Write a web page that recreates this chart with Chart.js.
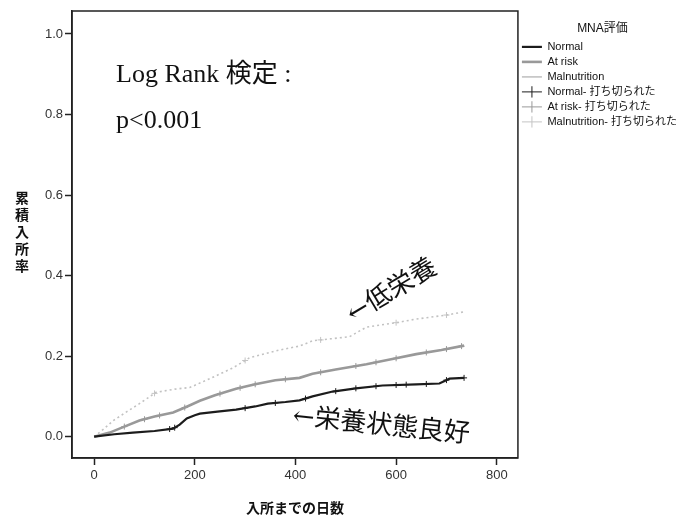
<!DOCTYPE html>
<html>
<head>
<meta charset="utf-8">
<script src="https://cdn.jsdelivr.net/npm/chart.js@4/dist/chart.umd.min.js"></script>
<style>
  html, body { margin: 0; padding: 0; background: #fff; }
  #wrap { width: 699px; height: 520px; }
</style>
</head>
<body>
<div id="wrap"><canvas id="km" width="699" height="520"></canvas></div>
<script>
// cumulative admission rate by MNA group
const normalDays = [0, 40, 77, 120, 157, 170, 184, 200, 210, 245, 282, 320, 345, 380, 408, 434, 474, 520, 573, 640, 686, 706, 735];
const normalRate = [0, 0.006, 0.01, 0.014, 0.02, 0.03, 0.045, 0.053, 0.057, 0.062, 0.067, 0.075, 0.082, 0.086, 0.09, 0.1, 0.112, 0.12, 0.127, 0.13, 0.132, 0.144, 0.146];

const atRiskDays = [0, 31, 60, 90, 120, 157, 185, 210, 240, 282, 320, 360, 408, 434, 480, 541, 590, 640, 690, 735];
const atRiskRate = [0, 0.01, 0.025, 0.04, 0.05, 0.06, 0.075, 0.089, 0.103, 0.119, 0.13, 0.14, 0.146, 0.156, 0.167, 0.18, 0.192, 0.205, 0.215, 0.226];

const malDays = [0, 20, 38, 65, 90, 123, 160, 190, 230, 276, 309, 368, 408, 434, 470, 507, 541, 600, 640, 700, 735];
const malRate = [0, 0.02, 0.04, 0.062, 0.082, 0.11, 0.118, 0.122, 0.144, 0.171, 0.196, 0.215, 0.225, 0.238, 0.243, 0.248, 0.272, 0.283, 0.292, 0.302, 0.31];

// censored times
const normalCensor = [150, 160, 300, 360, 420, 480, 520, 560, 600, 620, 660, 700, 735];
const atRiskCensor = [60, 100, 130, 180, 250, 290, 320, 380, 450, 520, 560, 600, 660, 700, 730];
const malCensor = [120, 300, 450, 600, 700];

const xTicks = [0, 200, 400, 600, 800];
const yTicks = [0, 0.2, 0.4, 0.6, 0.8, 1.0];

const groupNames = ['Normal', 'At risk', 'Malnutrition'];
const censorSuffix = '- 打ち切られた';

function points(days, rates) {
   return days.map((d, i) => ({x: d, y: rates[i]}));
}

// value of the curve at time t (linear between read points)
function curveValue(days, rates, t) {
   for (let i = 1; i < days.length; i++) {
      if (t <= days[i]) {
         const f = (t - days[i - 1]) / (days[i] - days[i - 1]);
         return rates[i - 1] + f * (rates[i] - rates[i - 1]);
      }
   }
   return rates[rates.length - 1];
}

function censorPoints(cens, days, rates) {
   return cens.map(c => ({x: c, y: curveValue(days, rates, c)}));
}

const ctx = document.getElementById('km').getContext('2d');

const extras = {
   id: 'extras',
   afterDatasetsDraw(chart) {
      const c = chart.ctx;
      const a = chart.chartArea;
      c.save();
      // frame
      c.strokeStyle = '#222';
      c.lineWidth = 1.5;
      c.strokeRect(a.left, a.top, a.right - a.left, a.bottom - a.top);

      // y title stacked vertically
      c.fillStyle = '#111';
      c.font = 'bold 14px "Noto Sans CJK JP"';
      c.textAlign = 'center';
      c.textBaseline = 'middle';
      const yt = '累積入所率';
      for (let i = 0; i < yt.length; i++) {
         c.fillText(yt[i], 22, 198 + i * 17);
      }

      // log rank text
      c.textAlign = 'left';
      c.textBaseline = 'alphabetic';
      c.font = '26px "Liberation Serif", "Noto Sans CJK JP"';
      c.fillText('Log Rank 検定 :', 116, 82);
      c.fillText('p<0.001', 116, 128);

      // group labels
      c.save();
      c.translate(353, 323);
      c.rotate(-31 * Math.PI / 180);
      c.font = '26px "DejaVu Serif", "Noto Sans CJK JP"';
      c.fillText('←低栄養', 0, 0);
      c.restore();

      c.save();
      c.translate(292, 424);
      c.rotate(6 * Math.PI / 180);
      c.font = '26px "DejaVu Serif", "Noto Sans CJK JP"';
      c.fillText('←栄養状態良好', 0, 0);
      c.restore();
      c.restore();
   }
};

const chart = new Chart(ctx, {
   type: 'line',
   data: {
      datasets: [
         {label: groupNames[0], data: points(normalDays, normalRate),
          borderColor: '#1c1c1c', backgroundColor: '#1c1c1c', borderWidth: 2.2, pointRadius: 0, pointStyle: 'line'},
         {label: groupNames[1], data: points(atRiskDays, atRiskRate),
          borderColor: '#999999', backgroundColor: '#999999', borderWidth: 2.6, pointRadius: 0, pointStyle: 'line'},
         {label: groupNames[2], data: points(malDays, malRate),
          borderColor: '#c2c2c2', backgroundColor: '#c2c2c2', borderWidth: 1.6, borderDash: [2, 3], pointRadius: 0, pointStyle: 'line'},
         {label: groupNames[0] + censorSuffix, data: censorPoints(normalCensor, normalDays, normalRate), showLine: false,
          borderColor: '#1c1c1c', backgroundColor: '#1c1c1c', borderWidth: 1, pointRadius: 3, pointStyle: 'cross'},
         {label: groupNames[1] + censorSuffix, data: censorPoints(atRiskCensor, atRiskDays, atRiskRate), showLine: false,
          borderColor: '#999999', backgroundColor: '#999999', borderWidth: 1, pointRadius: 3, pointStyle: 'cross'},
         {label: groupNames[2] + censorSuffix, data: censorPoints(malCensor, malDays, malRate), showLine: false,
          borderColor: '#c4c4c4', backgroundColor: '#c4c4c4', borderWidth: 1, pointRadius: 3, pointStyle: 'cross'}
      ]
   },
   options: {
      responsive: false,
      animation: false,
      layout: { padding: { top: 11, left: 0, right: 12, bottom: 0 } },
      plugins: {
         tooltip: { enabled: false },
         legend: {
            position: 'right',
            align: 'start',
            title: { display: true, text: 'MNA評価', color: '#111',
                     font: { size: 12, family: '"Liberation Sans", "Noto Sans CJK JP"' }, padding: { top: 12, bottom: 0 } },
            labels: {
               color: '#111',
               font: { size: 11, family: '"Liberation Sans", "Noto Sans CJK JP"' },
               usePointStyle: true,
               pointStyleWidth: 20,
               boxHeight: 8,
               padding: 4
            }
         }
      },
      scales: {
         x: {
            type: 'linear',
            min: -44,
            max: 842,
            afterBuildTicks: axis => { axis.ticks = xTicks.map(v => ({value: v})); },
            afterFit: axis => { axis.height = 62; },
            grid: { drawOnChartArea: false, drawTicks: true, tickLength: 7, color: '#222', tickWidth: 1.5 },
            border: { display: true, color: '#222', width: 1.5 },
            ticks: { color: '#333', padding: 3, font: { size: 13, family: '"Liberation Sans"' } },
            title: { display: true, text: '入所までの日数', color: '#111', padding: { top: 8 },
                     font: { size: 14, weight: 'bold', family: '"Noto Sans CJK JP"' } }
         },
         y: {
            type: 'linear',
            min: -0.053,
            max: 1.057,
            afterBuildTicks: axis => { axis.ticks = yTicks.map(v => ({value: v})); },
            afterFit: axis => { axis.width = 72; },
            grid: { drawOnChartArea: false, drawTicks: true, tickLength: 7, color: '#222', tickWidth: 1.5 },
            border: { display: true, color: '#222', width: 1.5 },
            ticks: { color: '#333', padding: 2, font: { size: 13, family: '"Liberation Sans"' },
                     callback: v => v.toFixed(1) }
         }
      }
   },
   plugins: [extras]
});
</script>
</body>
</html>
